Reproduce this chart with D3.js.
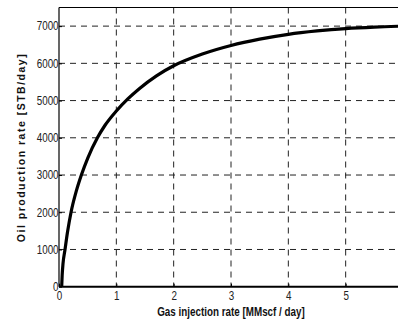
<!DOCTYPE html>
<html><head><meta charset="utf-8">
<script src="https://cdn.jsdelivr.net/npm/d3@7"></script>
<style>
html,body{margin:0;padding:0;background:#fff;}
svg{display:block;}
</style></head>
<body>
<svg id="chart" width="398" height="323"></svg>
<script>
const gasRate = [0.047, 0.055, 0.07, 0.105, 0.15, 0.21, 0.3, 0.39, 0.5, 0.67, 0.8, 1.0, 1.2, 1.4, 1.7, 2.0, 2.5, 3.0, 3.5, 4.0, 4.5, 5.0, 5.5, 6.0];
const oilRate = [0, 300, 620, 1000, 1480, 2000, 2560, 3000, 3450, 4000, 4330, 4720, 5045, 5320, 5665, 5935, 6250, 6480, 6650, 6780, 6870, 6935, 6975, 7000];
const xTicks = [0, 1, 2, 3, 4, 5];
const yTicks = [0, 1000, 2000, 3000, 4000, 5000, 6000, 7000];
const xTitle = "Gas injection rate [MMscf / day]";
const yTitle = "Oil production rate [STB/day]";

const FONT = "'Liberation Sans',Arial,sans-serif";
const svg = d3.select("#chart");
const m = {l:59, r:403, t:7.5, b:286.7};
const x = d3.scaleLinear().domain([0,6]).range([m.l, m.r]);
const y = d3.scaleLinear().domain([0,7500]).range([m.b, m.t]);

// grid
const grid = svg.append("g");
grid.selectAll("line.gx").data(xTicks.slice(1)).enter().append("line")
  .attr("x1", d=>x(d)).attr("x2", d=>x(d)).attr("y1", m.t).attr("y2", m.b)
  .attr("stroke","#222").attr("stroke-width",1).attr("stroke-dasharray","6,5");
grid.selectAll("line.gy").data(yTicks.slice(1)).enter().append("line")
  .attr("y1", d=>y(d)).attr("y2", d=>y(d)).attr("x1", m.l).attr("x2", m.r)
  .attr("stroke","#222").attr("stroke-width",1).attr("stroke-dasharray","6,5");

// top border
svg.append("line").attr("x1",m.l).attr("x2",m.r).attr("y1",m.t).attr("y2",m.t)
  .attr("stroke","#000").attr("stroke-width",1);

// axes
const xAxis = d3.axisBottom(x).tickValues(xTicks).tickFormat(d3.format("d")).tickSize(-3).tickPadding(5);
const gx = svg.append("g").attr("transform",`translate(0,${m.b})`).call(xAxis);
gx.select(".domain").attr("stroke","#000").attr("stroke-width",2).attr("d",`M${m.l},0H${m.r}`);
gx.selectAll(".tick line").attr("stroke","#000");
gx.selectAll(".tick text").attr("font-family",FONT).attr("font-size",12).attr("fill","#222")
  .attr("transform","scale(0.82,1)");

const yAxis = d3.axisLeft(y).tickValues(yTicks).tickFormat(d3.format("d")).tickSize(-3).tickPadding(0.5);
const gy = svg.append("g").attr("transform",`translate(${m.l},0)`).call(yAxis);
gy.select(".domain").attr("stroke","#000").attr("stroke-width",1.2).attr("d",`M0,${m.t}V${m.b}`);
gy.selectAll(".tick line").attr("stroke","#000");
gy.selectAll(".tick text").attr("font-family",FONT).attr("font-size",12).attr("fill","#222")
  .attr("transform","scale(0.82,1)");

// curve
const line = d3.line().x((d,i)=>x(gasRate[i])).y(d=>y(d)).curve(d3.curveMonotoneX);
svg.append("path").datum(oilRate).attr("d",line).attr("fill","none")
  .attr("stroke","#000").attr("stroke-width",3.2).attr("stroke-linejoin","round");

// titles
svg.append("text").attr("transform","translate(231,316) scale(0.82,1)").attr("text-anchor","middle")
  .attr("font-family",FONT)
  .attr("font-weight","bold").attr("font-size",12).attr("fill","#111").text(xTitle);
svg.append("text").attr("transform","translate(24.5,147.5) rotate(-90)").attr("text-anchor","middle")
  .attr("font-family",FONT)
  .attr("font-weight","bold").attr("font-size",10.5).attr("letter-spacing","1.5px").attr("fill","#111").text(yTitle);
</script>
</body></html>
